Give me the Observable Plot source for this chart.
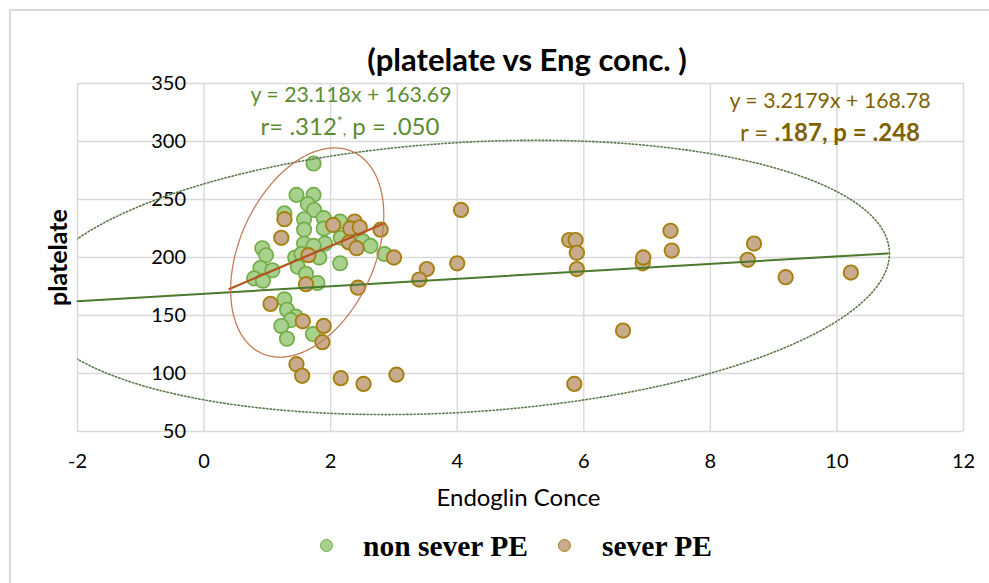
<!DOCTYPE html>
<html>
<head>
<meta charset="utf-8">
<script src="https://cdn.jsdelivr.net/npm/d3@7"></script>
<script src="https://cdn.jsdelivr.net/npm/@observablehq/plot@0.6"></script>
<style>
  body { margin: 0; background: #fff; }
  #wrap { position: relative; width: 989px; height: 583px; overflow: hidden; background: #fff; font-family: Lato, "Open Sans", sans-serif; }
  #border { position: absolute; left: 9px; top: 9px; width: 1100px; height: 700px; border: 2px solid #d9d9d9; box-sizing: border-box; }
  #chart { position: absolute; left: 0; top: 0; }
  .ann { position: absolute; transform: translate(-50%, -50%); white-space: nowrap; line-height: 1; }
  .title { font-weight: bold; font-size: 31px; color: #000; }
  .g { color: #5b8c32; }
  .o { color: #7f6000; }
  .legend { position: absolute; top: 530px; left: 0; width: 989px; height: 32px; font-family: "Liberation Serif", "DejaVu Serif", serif; font-weight: bold; font-size: 29.5px; color: #000; }
  .legend span.dot { position: absolute; top: 9px; width: 11px; height: 11px; border-radius: 50%; }
  .legend span.txt { position: absolute; top: 0px; line-height: 32px; }
</style>
</head>
<body>
<div id="wrap">
  <div id="border"></div>
  <div id="chart"></div>
  <div class="ann title" style="left:527px; top:59px;">(platelate vs Eng conc. )</div>
  <div class="ann g" style="left:351px; top:95px; font-size:21.3px;">y = 23.118x + 163.69</div>
  <div class="ann g" style="left:350px; top:126px; font-size:24px;">r= .312<sup style="font-size:14px;vertical-align:9px;line-height:0">*</sup><span style="font-size:15px">,</span> p = .050</div>
  <div class="ann o" style="left:830px; top:101px; font-size:21.3px;">y = 3.2179x + 168.78</div>
  <div class="ann o" style="left:830px; top:132px; font-size:24px;">r = <b>.187, p = .248</b></div>
  <div class="legend">
    <span class="dot" style="left:320px; background:#a9d18e; border:1.5px solid #70ad47;"></span>
    <span class="txt" style="left:363px;">non sever PE</span>
    <span class="dot" style="left:558px; background:#c8aa8c; border:1.5px solid #a5800f;"></span>
    <span class="txt" style="left:602px;">sever PE</span>
  </div>
</div>
<script>
// ---- data ----
const xTicks = [-2, 0, 2, 4, 6, 8, 10, 12];
const yTicks = [50, 100, 150, 200, 250, 300, 350];

const nonSevereX = [1.73,1.46,1.73,1.64,1.74,1.27,1.58,1.89,1.58,1.89,2.15,2.16,1.58,1.91,1.73,2.51,2.63,2.85,0.92,0.98,1.44,1.54,1.82,2.15,0.89,1.08,1.48,0.79,0.93,1.61,1.79,1.27,1.31,1.45,1.37,1.22,1.31,1.72];
const nonSevereY = [281,254,254,246,241,238,233,234,224,225,231,217,212,212,210,214,210,203,208,202,200,203,200,195,191,189,192,182,180,186,178,164,155,149,146,141,130,134];

const severeX = [1.27,1.22,2.04,2.38,2.31,2.46,2.79,2.29,2.41,1.65,3.00,1.61,2.43,1.05,1.56,1.89,1.87,1.46,1.55,2.16,2.52,3.04,4.06,3.52,3.40,4.00,5.77,5.87,5.89,5.89,6.62,5.85,6.93,6.94,7.37,7.39,8.69,8.59,9.19,10.22];
const severeY = [233,217,228,231,225,226,224,213,208,202,200,177,174,160,145,141,127,108,98,96,91,99,241,190,181,195,215,215,204,190,137,91,195,200,223,206,212,198,183,187];

// trend lines: slope, intercept, x-range
const trendAll = {slope: 3.2179, intercept: 168.78, x0: -2, x1: 10.8};
const trendNon = {slope: 23.118, intercept: 163.69, x0: 0.4, x1: 2.85};

// hand-drawn ellipses (data units): center, half-width, half-height, shear
const ellipseBig = {cx: 4.06, cy: 182.8, w: 6.77, h: 116.4, shear: 3.06};
const ellipseSmall = {cx: 1.63, cy: 204.3, w: 1.21, h: 84.2, shear: 26.7};

// ---- build tables ----
const nonSevere = nonSevereX.map((x, i) => ({x, y: nonSevereY[i]}));
const severe = severeX.map((x, i) => ({x, y: severeY[i]}));
const trendPts = t => [t.x0, t.x1].map(x => ({x, y: t.slope * x + t.intercept}));
const ellipsePts = e => d3.range(0, 361, 2).map(a => {
  const t = a * Math.PI / 180;
  return {x: e.cx + e.w * Math.cos(t), y: e.cy + e.h * Math.sin(t) + e.shear * e.w * Math.cos(t)};
});

const chart = Plot.plot({
  width: 989,
  height: 583,
  marginTop: 83,
  marginLeft: 77,
  marginRight: 26,
  marginBottom: 152,
  x: {domain: [-2, 12], axis: null},
  y: {domain: [50, 350], axis: null},
  style: {background: "transparent", fontFamily: "Lato, 'Open Sans', sans-serif", overflow: "visible"},
  marks: [
    Plot.gridY(yTicks, {stroke: "#d9d9d9", strokeOpacity: 1, strokeWidth: 1.4}),
    Plot.gridX(xTicks, {stroke: "#d9d9d9", strokeOpacity: 1, strokeWidth: 1.4}),
    Plot.text(xTicks, {x: d => d, frameAnchor: "bottom", text: d => String(d), dy: 36, fontSize: 20, fill: "#000"}),
    Plot.text(yTicks, {x: 0, y: d => d, text: d => String(d), textAnchor: "end", dx: -18, fontSize: 20, fill: "#000"}),
    Plot.text(["Endoglin Conce"], {frameAnchor: "bottom", dy: 74, dx: -2, fontSize: 24, fill: "#000"}),
    Plot.text(["platelate"], {frameAnchor: "left", textAnchor: "middle", lineAnchor: "middle", dx: -19, rotate: -90, fontSize: 25, fontWeight: "bold", fill: "#000"}),
    Plot.dot(nonSevere, {x: "x", y: "y", r: 7.2, fill: "#a9d18e", stroke: "#70ad47", strokeWidth: 1.7}),
    Plot.dot(severe, {x: "x", y: "y", r: 7.2, fill: "#c8aa8c", stroke: "#a5800f", strokeWidth: 1.9}),
    Plot.line(trendPts(trendAll), {x: "x", y: "y", stroke: "#4a7a2c", strokeWidth: 2}),
    Plot.line(trendPts(trendNon), {x: "x", y: "y", stroke: "#b4531f", strokeWidth: 2.2}),
    Plot.line(ellipsePts(ellipseBig), {x: "x", y: "y", stroke: "#5d7a4e", strokeWidth: 1.6, strokeDasharray: "1.4,2.2", clip: true, curve: "linear"}),
    Plot.line(ellipsePts(ellipseSmall), {x: "x", y: "y", stroke: "#c27a55", strokeWidth: 1.3, strokeDasharray: "2,0.8", curve: "linear"})
  ]
});
document.getElementById("chart").appendChild(chart);
</script>
</body>
</html>
